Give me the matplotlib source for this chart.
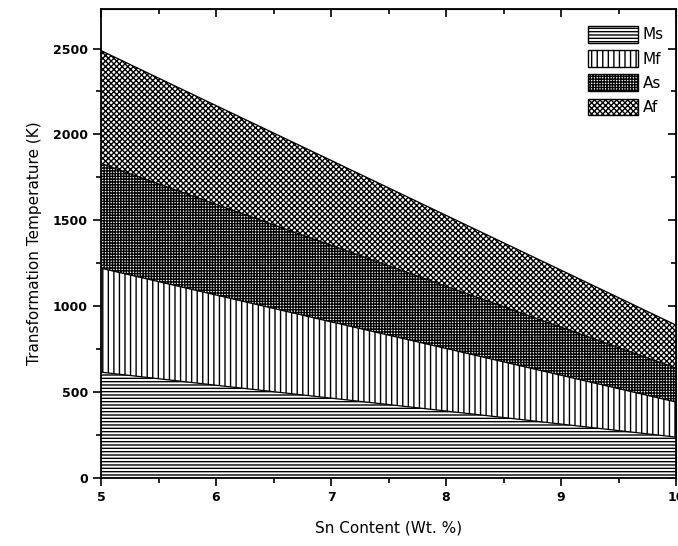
import matplotlib
matplotlib.use("Agg")
import matplotlib.pyplot as plt
from matplotlib.patches import Patch
from matplotlib.ticker import MultipleLocator

x = [5, 6, 7, 8, 9, 10]
ms = [616, 540, 465, 390, 314, 238]
mf = [1221, 1065, 909, 754, 598, 442]
as_ = [1831, 1593, 1355, 1116, 878, 640]
af = [2488, 2168, 1849, 1529, 1210, 890]
names = ["Ms", "Mf", "As", "Af"]
hatches = ["-----", "|||", "++++++", "xxxxxx"]

plt.rcParams['hatch.linewidth'] = 1.0
fig = plt.figure(figsize=(6.78, 5.46), dpi=100)
ax = fig.add_axes([101/678, 1-478/546, 575/678, 469/546])

layers = [ms, mf, as_, af]
lower = [0]*len(x)
for vals, h in zip(layers, hatches):
    ax.fill_between(x, lower, vals, facecolor="white", edgecolor="black",
                    hatch=h, linewidth=0)
    ax.plot(x, vals, color="black", lw=0.9)
    lower = vals

ax.set_xlim(5, 10)
ax.set_ylim(0, 2730)
ax.xaxis.set_major_locator(MultipleLocator(1))
ax.xaxis.set_minor_locator(MultipleLocator(0.5))
ax.yaxis.set_major_locator(MultipleLocator(500))
ax.yaxis.set_minor_locator(MultipleLocator(250))
ax.tick_params(which="both", direction="out", top=False, right=False)
ax.tick_params(which="major", length=6, width=1.2, labelsize=9)
ax.tick_params(which="minor", length=3.5, width=1.2)
for lbl in ax.get_xticklabels() + ax.get_yticklabels():
    lbl.set_fontweight("bold")
for s in ax.spines.values():
    s.set_linewidth(1.3)

sec = ax.secondary_xaxis("top")
sec.xaxis.set_major_locator(MultipleLocator(1))
sec.xaxis.set_minor_locator(MultipleLocator(0.5))
sec.tick_params(which="both", direction="in", labeltop=False)
sec.tick_params(which="major", length=6, width=1.2)
sec.tick_params(which="minor", length=3.5, width=1.2)
secy = ax.secondary_yaxis("right")
secy.yaxis.set_major_locator(MultipleLocator(500))
secy.yaxis.set_minor_locator(MultipleLocator(250))
secy.tick_params(which="both", direction="in", labelright=False)
secy.tick_params(which="major", length=6, width=1.2)
secy.tick_params(which="minor", length=3.5, width=1.2)

ax.set_xlabel("Sn Content (Wt. %)", fontsize=11, labelpad=12)
ax.set_ylabel("Transformation Temperature (K)", fontsize=11, labelpad=8)

handles = [Patch(facecolor="white", edgecolor="black", hatch=h, label=n)
           for n, h in zip(names, hatches)]
ax.legend(handles=handles, loc="upper right", fontsize=11, frameon=False,
          handlelength=3.3, handleheight=1.3, labelspacing=0.5,
          handletextpad=0.3, borderpad=0.3, bbox_to_anchor=(1.0, 0.99))

fig.savefig("out.png", dpi=100)
